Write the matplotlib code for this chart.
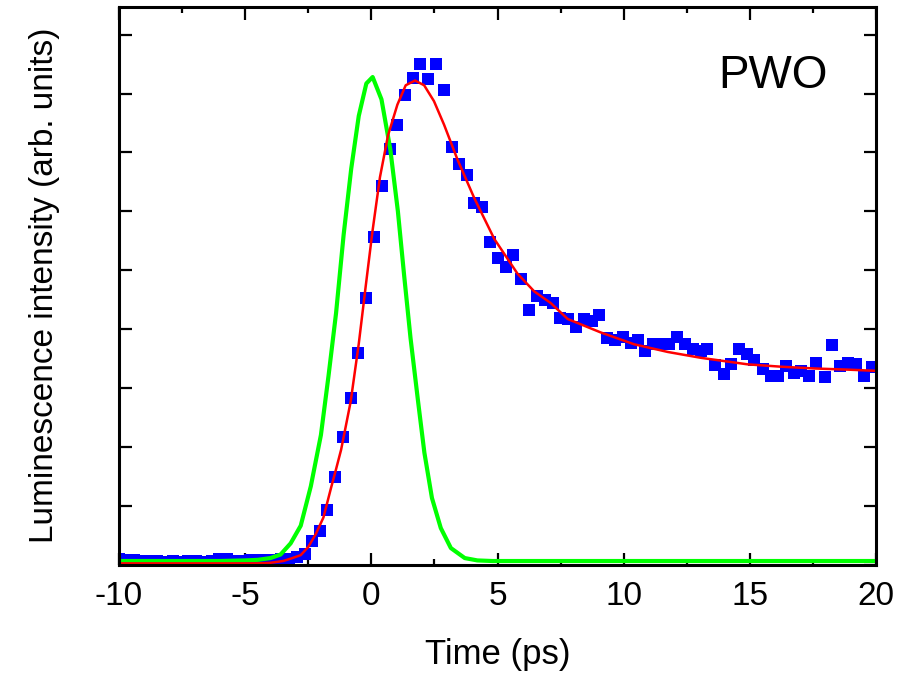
import matplotlib
matplotlib.use('Agg')
import matplotlib.pyplot as plt
from matplotlib.ticker import MultipleLocator

plt.rcParams['font.family'] = ['Liberation Sans', 'DejaVu Sans']
plt.rcParams['axes.unicode_minus'] = False

# measured luminescence (blue squares)
t_data = [-10.0, -9.7, -9.4, -9.09, -8.78, -8.48, -8.17, -7.86, -7.56, -7.25,
          -6.94, -6.64, -6.33, -6.02, -5.72, -5.41, -5.10, -4.80, -4.49, -4.18,
          -3.88, -3.57, -3.26, -2.96, -2.65, -2.35, -2.04, -1.75, -1.44, -1.13,
          -0.82, -0.52, -0.21, 0.10, 0.41, 0.72, 1.03, 1.33, 1.64, 1.93,
          2.25, 2.56, 2.88, 3.18, 3.49, 3.78, 4.07, 4.40, 4.70, 5.02,
          5.33, 5.63, 5.94, 6.25, 6.57, 6.89, 7.18, 7.49, 7.78, 8.11,
          8.42, 8.73, 9.03, 9.34, 9.66, 9.96, 10.27, 10.56, 10.86, 11.17,
          11.48, 11.79, 12.10, 12.41, 12.74, 13.05, 13.31, 13.63, 13.97, 14.26,
          14.56, 14.89, 15.18, 15.52, 15.82, 16.13, 16.41, 16.73, 17.04, 17.34,
          17.63, 17.96, 18.27, 18.58, 18.89, 19.22, 19.52, 19.83]
i_data = [0.09, 0.07, 0.07, 0.06, 0.06, 0.06, 0.05, 0.06, 0.05, 0.06,
          0.06, 0.05, 0.06, 0.09, 0.09, 0.06, 0.06, 0.08, 0.08, 0.07,
          0.08, 0.09, 0.10, 0.12, 0.18, 0.40, 0.57, 0.92, 1.49, 2.17,
          2.83, 3.59, 4.53, 5.56, 6.43, 7.05, 7.47, 7.97, 8.27, 8.50,
          8.24, 8.50, 8.06, 7.09, 6.80, 6.61, 6.14, 6.08, 5.47, 5.20,
          5.05, 5.25, 4.85, 4.32, 4.56, 4.50, 4.44, 4.18, 4.17, 4.03,
          4.17, 4.14, 4.24, 3.84, 3.81, 3.87, 3.77, 3.81, 3.63, 3.74,
          3.74, 3.75, 3.87, 3.74, 3.66, 3.62, 3.66, 3.39, 3.23, 3.40,
          3.66, 3.57, 3.47, 3.32, 3.21, 3.21, 3.37, 3.26, 3.29, 3.20,
          3.43, 3.19, 3.73, 3.37, 3.43, 3.40, 3.20, 3.35]

# instrument response (green)
t_irf = [-10.0, -6.0, -5.0, -4.5, -4.0, -3.6, -3.2, -2.8, -2.4, -2.0,
         -1.7, -1.4, -1.1, -0.8, -0.5, -0.2, 0.05, 0.4, 0.75, 1.05,
         1.3, 1.55, 1.85, 2.1, 2.4, 2.75, 3.15, 3.7, 4.2, 4.8, 6.0, 20.0]
i_irf = [0.06, 0.06, 0.07, 0.08, 0.11, 0.17, 0.36, 0.66, 1.33, 2.2,
         3.2, 4.27, 5.6, 6.72, 7.62, 8.17, 8.28, 7.9, 7.05, 6.0,
         4.9, 3.85, 2.77, 1.9, 1.13, 0.62, 0.28, 0.11, 0.07, 0.06, 0.06, 0.06]

# fit (red)
t_fit = [-10.0, -4.5, -4.0, -3.5, -3.2, -2.8, -2.5, -2.2, -1.9, -1.6,
         -1.4, -1.2, -1.0, -0.82, -0.5, -0.23, 0.04, 0.34, 0.66, 1.03,
         1.36, 1.73, 2.09, 2.48, 2.88, 3.41, 4.07, 4.87, 5.79, 6.45,
         7.11, 7.78, 9.10, 10.42, 11.75, 13.07, 14.91, 16.24, 17.56, 18.89, 20.0]
i_fit = [0.02, 0.02, 0.03, 0.06, 0.10, 0.16, 0.30, 0.52, 0.80, 1.30,
         1.62, 1.95, 2.38, 2.77, 3.75, 4.71, 5.65, 6.58, 7.29, 7.81,
         8.14, 8.22, 8.14, 7.87, 7.47, 6.88, 6.23, 5.53, 4.94, 4.64,
         4.44, 4.17, 3.94, 3.74, 3.61, 3.51, 3.40, 3.36, 3.33, 3.31, 3.29]

fig = plt.figure(figsize=(8.97, 6.81), dpi=100)
ax = fig.add_axes([0.1327, 0.171, 0.8440, 0.8188])

ax.plot(t_data, i_data, 's', color='#0000ff', markersize=8.6, markeredgewidth=0)
ax.plot(t_irf, i_irf, '-', color='#00ff00', linewidth=3.0)
ax.plot(t_fit, i_fit, '-', color='#ff0000', linewidth=1.8)

ax.set_xlim(-10, 20)
ax.set_ylim(0, 9.47)
ax.xaxis.set_major_locator(MultipleLocator(5))
ax.xaxis.set_minor_locator(MultipleLocator(2.5))
ax.yaxis.set_major_locator(MultipleLocator(1))
ax.tick_params(which='both', direction='in', top=True, right=True, width=1.6)
ax.tick_params(which='major', length=9)
ax.tick_params(which='minor', length=4.5)
ax.tick_params(axis='x', labelsize=24, pad=12)
ax.tick_params(axis='y', labelleft=False)
for s in ax.spines.values():
    s.set_linewidth(2.2)

ax.set_xlabel('Time (ps)', fontsize=25)
ax.set_ylabel('Luminescence intensity (arb. units)', fontsize=24)
ax.xaxis.set_label_coords(0.5, -0.132)
ax.yaxis.set_label_coords(-0.078, 0.5)

fig.text(0.8004, 0.8708, 'PWO', fontsize=33)

fig.savefig('out.png', dpi=100)
